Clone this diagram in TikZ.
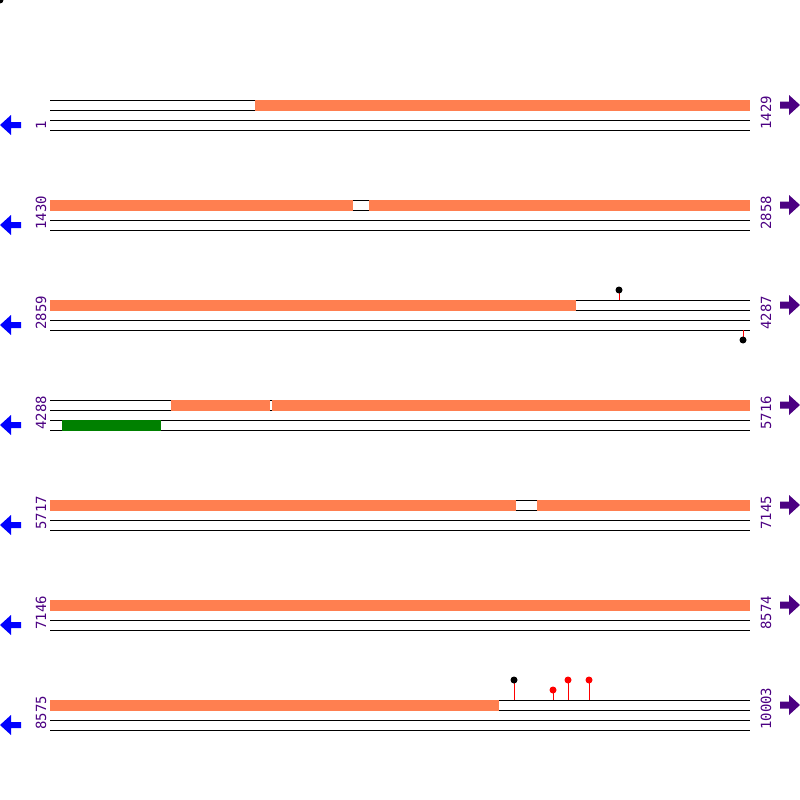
\documentclass[tikz,border=0pt]{standalone}
\usepackage{fontspec}
\newfontfamily\labfont{DejaVu Sans Mono}
\definecolor{coral}{HTML}{FF7F50}
\definecolor{indig}{HTML}{4B0082}
\definecolor{grn}{HTML}{008000}
\tikzset{
  trk/.style={black, line width=1pt},
  feat/.style={fill=coral, draw=none},
  gfeat/.style={fill=grn, draw=none},
  stick/.style={red, line width=1pt},
  lbl/.style={text=indig, font=\labfont\fontsize{14}{14}\selectfont, inner sep=0pt, rotate=90, anchor=base west},
  larrow/.style={fill=blue, draw=none},
  rarrow/.style={fill=indig, draw=none}
}
\begin{document}
\begin{tikzpicture}[x=1pt, y=-1pt]
\useasboundingbox (0,0) rectangle (800,800);
% stray dot top-left
\fill[black] (0,0) circle (3.5);
% rows
\foreach \r/\a/\b in {0/1/1429, 1/1430/2858, 2/2859/4287, 3/4288/5716, 4/5717/7145, 5/7146/8574, 6/8575/10003} {
  \pgfmathsetmacro{\yo}{100+100*\r}
  \foreach \d in {0,10,20,30} {
    \draw[trk] (50,\yo+\d) -- (750,\yo+\d);
  }
  \node[lbl] (L\r) at (46,\yo+30) {\a};
  \node[lbl] (R\r) at (771,\yo+30) {\b};
  % left arrow
  \fill[larrow] (0,\yo+25) -- (11,\yo+15) -- (11,\yo+22) -- (21,\yo+22) -- (21,\yo+28) -- (11,\yo+28) -- (11,\yo+35) -- cycle;
  % right arrow
  \fill[rarrow] (800,\yo+5) -- (789,\yo-5) -- (789,\yo+1.5) -- (780,\yo+1.5) -- (780,\yo+8.5) -- (789,\yo+8.5) -- (789,\yo+15) -- cycle;
}
% row 0
\fill[feat] (255,99.5) rectangle (750,110.5);
% row 1
\fill[feat] (50,199.5) rectangle (353,210.5);
\fill[feat] (369,199.5) rectangle (750,210.5);
% row 2
\fill[feat] (50,299.5) rectangle (576,310.5);
\draw[stick] (619,300) -- (619,290);
\fill[black] (619,290) circle (3.5);
\draw[stick] (743,330) -- (743,340);
\fill[black] (743,340) circle (3.5);
% row 3
\fill[feat] (171,399.5) rectangle (269.5,410.5);
\fill[feat] (271.5,399.5) rectangle (750,410.5);
\fill[gfeat] (62,419.5) rectangle (161,430.5);
% row 4
\fill[feat] (50,499.5) rectangle (516,510.5);
\fill[feat] (537,499.5) rectangle (750,510.5);
% row 5
\fill[feat] (50,599.5) rectangle (750,610.5);
% row 6
\fill[feat] (50,699.5) rectangle (499,710.5);
\draw[stick] (514,700) -- (514,680);
\fill[black] (514,680) circle (3.5);
\draw[stick] (553,700) -- (553,690);
\fill[red] (553,690) circle (3.5);
\draw[stick] (568,700) -- (568,680);
\fill[red] (568,680) circle (3.5);
\draw[stick] (589,700) -- (589,680);
\fill[red] (589,680) circle (3.5);
\end{tikzpicture}
\end{document}
